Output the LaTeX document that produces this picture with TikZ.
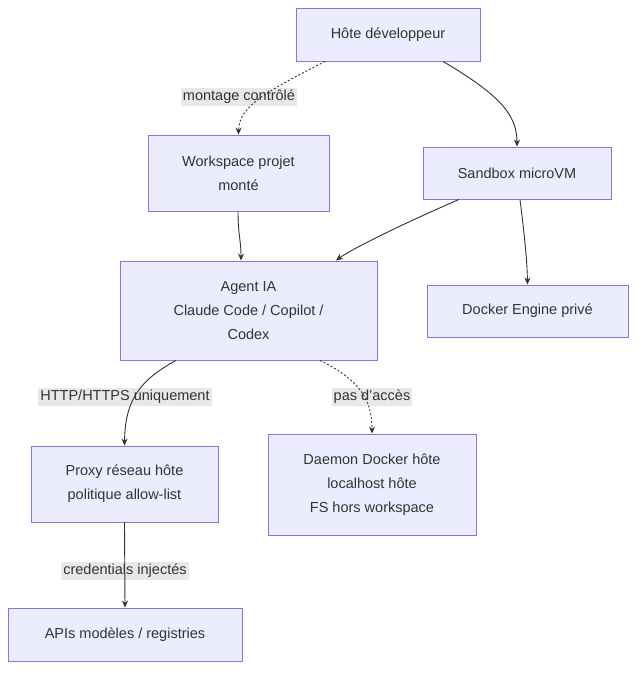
\documentclass[tikz,border=0pt]{standalone}
\usepackage{fontspec}
\setmainfont{Liberation Sans}
\usetikzlibrary{arrows.meta}
\definecolor{nfill}{HTML}{ECECFF}
\definecolor{nline}{HTML}{9370DB}
\definecolor{ecol}{HTML}{333333}
\definecolor{lbg}{HTML}{E8E8E8}
\begin{document}
\begin{tikzpicture}[x=1pt,y=-1pt,
  box/.style={draw=nline,fill=nfill,line width=0.9pt,align=center,inner sep=0pt,font=\fontsize{14.5}{24}\selectfont,text=ecol},
  edge/.style={draw=ecol,line width=0.9pt,-{Stealth[length=7pt,width=6pt]}},
  dot/.style={edge,dash pattern=on 2pt off 2pt},
  lab/.style={fill=lbg,inner sep=2pt,font=\fontsize{14.5}{17}\selectfont,text=ecol}]
\useasboundingbox (0,0) rectangle (644,678);
\node[box,minimum width=184pt,minimum height=53pt] (h) at (388,34.5) {Hôte développeur};
\node[box,minimum width=181pt,minimum height=76pt] (w) at (238.5,173) {Workspace projet\\monté};
\node[box,minimum width=188pt,minimum height=52pt] (s) at (517,173) {Sandbox microVM};
\node[box,minimum width=257pt,minimum height=99pt] (a) at (248.5,310.5) {Agent IA\\Claude Code / Copilot /\\Codex};
\node[box,minimum width=201pt,minimum height=52pt] (d) at (527.5,311) {Docker Engine privé};
\node[box,minimum width=187pt,minimum height=76pt] (p) at (124.5,484) {Proxy réseau hôte\\politique allow-list};
\node[box,minimum width=208pt,minimum height=101pt] (dd) at (372,484.5) {Daemon Docker hôte\\localhost hôte\\FS hors workspace};
\node[box,minimum width=234pt,minimum height=53pt] (api) at (125,634.5) {APIs modèles / registries};

\node[lab] (l1) at (239,97) {montage contrôlé};
\node[lab] (l2) at (125,397) {HTTP/HTTPS uniquement};
\node[lab] (l3) at (372,397) {pas d'accès};
\node[lab] (l4) at (125,571) {credentials injectés};

\draw[dot] ([xshift=-63pt]h.south) .. controls (270,90) and (239,105) .. (w.north);
\draw[edge] ([xshift=55pt]h.south) .. controls (500,95) and (517,115) .. (s.north);
\draw[edge] ([xshift=-0.5pt]w.south) .. controls (238,235) and (241,240) .. ([xshift=-7.5pt]a.north);
\draw[edge] ([xshift=-58pt]s.south) .. controls (400,225) and (350,250) .. ([xshift=87.5pt]a.north);
\draw[edge] ([xshift=3pt]s.south) .. controls (525,240) and (527,260) .. (d.north);
\draw[edge] ([xshift=-72.5pt]a.south) .. controls (140,380) and (125,400) .. (p.north);
\draw[dot] ([xshift=71.5pt]a.south) .. controls (360,380) and (372,400) .. (dd.north);
\draw[edge] (p.south) -- (api.north);
\end{tikzpicture}
\end{document}
